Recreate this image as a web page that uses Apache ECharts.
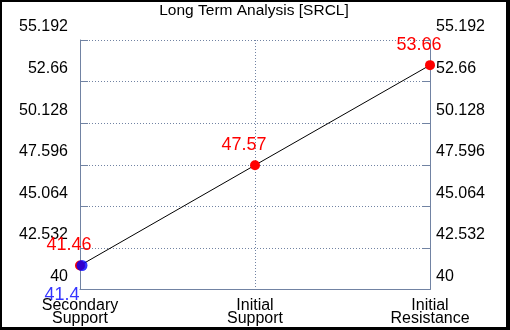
<!DOCTYPE html>
<html>
<head>
<meta charset="utf-8">
<script src="https://cdn.jsdelivr.net/npm/echarts@6/dist/echarts.min.js"></script>
<style>
  html, body { margin: 0; padding: 0; background: #000; }
  #chart { position: absolute; left: 2px; top: 2px; width: 504px; height: 325px; background: #fff; }
</style>
</head>
<body>
<div id="chart"></div>
<script>
const categorias = ["Secondary\nSupport", "Initial\nSupport", "Initial\nResistance"];
const valoresVermelhos = [41.46, 47.57, 53.66];
const valoresAzuis = [41.4, null, null];
const yMin = 40;
const yMax = 55.192;
const yPasso = 2.532;

const corEixo = "#7183a3";
const fonte = "Liberation Sans, Arial, sans-serif";

const eixoY = (pos) => ({
  type: "value",
  position: pos,
  min: yMin,
  max: yMax,
  interval: yPasso,
  axisLine: { show: true, lineStyle: { color: corEixo, width: 1 } },
  axisTick: { show: true, inside: true, length: 8, lineStyle: { color: corEixo } },
  splitLine: { show: pos === "left", lineStyle: { color: corEixo, type: [1, 2], width: 1 } },
  axisLabel: {
    color: "#000",
    fontFamily: fonte,
    fontSize: 16,
    margin: pos === "left" ? 12 : 6,
    verticalAlign: "bottom",
    padding: [0, 0, 5, 0],
    formatter: (v) => String(+v.toFixed(3)),
  },
});

const myChart = echarts.init(document.getElementById("chart"));
myChart.setOption({
  animation: false,
  title: {
    text: "Long Term Analysis [SRCL]",
    left: "center",
    top: -4,
    textStyle: { fontFamily: fonte, fontSize: 15.5, fontWeight: "normal", color: "#000" },
  },
  grid: { left: 78, right: 76, top: 38, bottom: 37 },
  xAxis: {
    type: "category",
    data: categorias,
    boundaryGap: false,
    axisLine: { lineStyle: { color: corEixo } },
    axisTick: { show: false },
    splitLine: {
      show: true,
      interval: (i) => i === 1,
      lineStyle: { color: corEixo, type: [1, 2] },
    },
    axisLabel: {
      color: "#000",
      fontFamily: fonte,
      fontSize: 16,
      lineHeight: 13,
      margin: 10,
      interval: 0,
    },
  },
  yAxis: [eixoY("left"), eixoY("right")],
  series: [
    {
      type: "line",
      data: valoresVermelhos,
      symbol: "circle",
      symbolSize: 10,
      lineStyle: { color: "#000", width: 1 },
      itemStyle: { color: "#ff0000" },
      label: {
        show: true,
        position: "top",
        offset: [-11, -1],
        color: "#ff0000",
        fontFamily: fonte,
        fontSize: 18,
      },
      z: 3,
    },
    {
      type: "scatter",
      data: valoresAzuis,
      symbol: "circle",
      symbolSize: 11,
      symbolOffset: [2, -1],
      itemStyle: { color: "#0000ff" },
      label: {
        show: true,
        position: "bottom",
        offset: [-20, 10],
        color: "#0000ff",
        fontFamily: fonte,
        fontSize: 18,
      },
      z: 4,
    },
  ],
});
</script>
</body>
</html>
